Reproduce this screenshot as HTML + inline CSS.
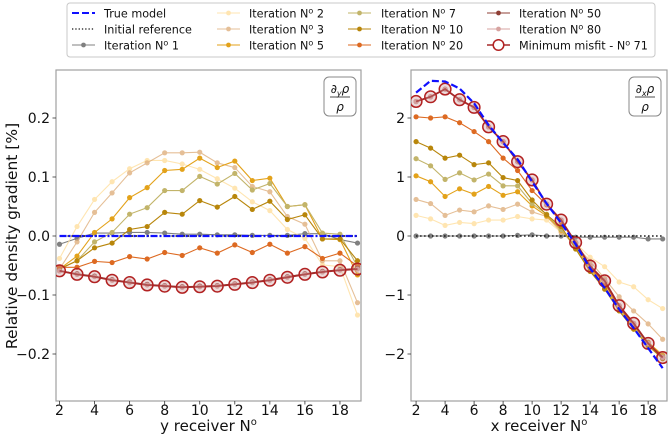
<!DOCTYPE html>
<html><head><meta charset="utf-8">
<style>
html,body{margin:0;padding:0;background:#fff;}
svg{display:block;font-family:"DejaVu Sans","Liberation Sans",sans-serif;}
</style></head>
<body>
<svg id="chart" width="669" height="436" viewBox="0 0 669 436" xmlns="http://www.w3.org/2000/svg">
  <g id="legend"></g>
  <g id="left"></g>
  <g id="right"></g>
</svg>
<script>
// ---- data ----
const receivers = [2,3,4,5,6,7,8,9,10,11,12,13,14,15,16,17,18,19];
const xTicks = [2,4,6,8,10,12,14,16,18];
const leftYTicks = [0.2,0.1,0.0,-0.1,-0.2];
const leftYTickLabels = ["0.2","0.1","0.0","\u22120.1","\u22120.2"];
const rightYTicks = [2,1,0,-1,-2];
const rightYTickLabels = ["2","1","0","\u22121","\u22122"];

// left panel (d_y rho / rho)
const dyTrue = [0,0,0,0,0,0,0,0,0,0,0,0,0,0,0,0,0,0];
const dyInit = [0,0,0,0,0,0,0,0,0,0,0,0,0,0,0,0,0,0];
const dyIt1 = [-0.014,-0.004,0.005,0.005,0.006,0.006,0.005,0.003,0.003,0.002,0.002,0.001,0.001,0.001,0.004,0.004,-0.006,-0.012];
const dyIt2 = [-0.038,0.016,0.062,0.092,0.114,0.128,0.128,0.122,0.113,0.097,0.081,0.058,0.043,0.011,-0.004,-0.049,-0.052,-0.134];
const dyIt3 = [-0.056,-0.010,0.040,0.073,0.107,0.124,0.141,0.141,0.142,0.124,0.116,0.084,0.075,0.033,0.020,-0.042,-0.042,-0.113];
const dyIt5 = [-0.056,-0.034,0.006,0.029,0.065,0.082,0.111,0.113,0.132,0.116,0.127,0.094,0.098,0.050,0.053,-0.005,-0.006,-0.066];
const dyIt7 = [-0.056,-0.042,-0.010,0.006,0.037,0.048,0.077,0.077,0.101,0.088,0.106,0.078,0.089,0.050,0.053,0.005,0.003,-0.052];
const dyIt10 = [-0.056,-0.042,-0.020,-0.012,0.011,0.016,0.040,0.037,0.060,0.049,0.067,0.045,0.059,0.028,0.036,-0.005,-0.005,-0.042];
const dyIt20 = [-0.053,-0.053,-0.043,-0.045,-0.035,-0.039,-0.028,-0.033,-0.020,-0.029,-0.015,-0.028,-0.014,-0.029,-0.018,-0.038,-0.029,-0.051];
const dyIt50 = [-0.059,-0.064,-0.068,-0.074,-0.078,-0.082,-0.084,-0.086,-0.085,-0.084,-0.081,-0.078,-0.074,-0.069,-0.064,-0.060,-0.057,-0.055];
const dyIt80 = [-0.059,-0.065,-0.069,-0.075,-0.079,-0.083,-0.085,-0.087,-0.086,-0.085,-0.082,-0.079,-0.075,-0.070,-0.065,-0.061,-0.058,-0.056];
const dyMin = [-0.059,-0.065,-0.069,-0.075,-0.079,-0.083,-0.085,-0.087,-0.086,-0.085,-0.082,-0.079,-0.075,-0.070,-0.065,-0.061,-0.058,-0.056];

// right panel (d_x rho / rho)
const dxTrue = [2.43,2.63,2.62,2.50,2.25,1.88,1.58,1.30,0.92,0.55,0.22,-0.14,-0.55,-0.88,-1.24,-1.56,-1.90,-2.24];
const dxInit = [0,0,0,0,0,0,0,0,0,0,0,0,0,0,0,0,0,0];
const dxIt1 = [0,0,0,0,0,0,0,0.01,0.02,0,0,-0.02,-0.02,-0.02,-0.02,-0.02,-0.05,-0.05];
const dxIt2 = [0.35,0.29,0.18,0.23,0.21,0.27,0.27,0.33,0.29,0.27,0.06,-0.12,-0.36,-0.52,-0.78,-0.86,-1.08,-1.23];
const dxIt3 = [0.62,0.55,0.35,0.44,0.41,0.51,0.45,0.54,0.41,0.33,0.07,-0.15,-0.43,-0.72,-1.03,-1.27,-1.49,-1.75];
const dxIt5 = [1.02,0.92,0.67,0.80,0.71,0.84,0.69,0.75,0.51,0.34,0.10,-0.18,-0.55,-0.85,-1.22,-1.52,-1.80,-2.02];
const dxIt7 = [1.31,1.19,0.96,1.07,0.95,1.05,0.85,0.85,0.55,0.37,0.11,-0.20,-0.58,-0.88,-1.25,-1.55,-1.83,-2.05];
const dxIt10 = [1.60,1.49,1.32,1.37,1.21,1.24,0.99,0.94,0.61,0.36,0.16,-0.22,-0.60,-0.90,-1.27,-1.58,-1.86,-2.08];
const dxIt20 = [2.02,2.00,2.02,1.92,1.77,1.60,1.32,1.11,0.77,0.53,0.24,-0.12,-0.53,-0.80,-1.20,-1.50,-1.82,-2.06];
const dxIt50 = [2.28,2.36,2.49,2.31,2.18,1.85,1.60,1.26,0.95,0.54,0.27,-0.11,-0.51,-0.76,-1.18,-1.48,-1.82,-2.06];
const dxIt80 = [2.28,2.36,2.49,2.31,2.18,1.85,1.60,1.26,0.95,0.54,0.27,-0.11,-0.51,-0.76,-1.18,-1.48,-1.82,-2.06];
const dxMin = [2.28,2.36,2.49,2.31,2.18,1.85,1.60,1.26,0.95,0.54,0.27,-0.11,-0.51,-0.76,-1.18,-1.48,-1.82,-2.06];

const NS = "http://www.w3.org/2000/svg";
function mk(tag, attrs, parent){
  const e = document.createElementNS(NS, tag);
  for (const k in attrs) e.setAttribute(k, attrs[k]);
  parent.appendChild(e);
  return e;
}

const iterStyles = [
  {key:"it1",  color:"#808080", op:1},
  {key:"it2",  color:"#ffdf9e", op:0.8},
  {key:"it3",  color:"#dfb07e", op:0.8},
  {key:"it5",  color:"#e3a21a", op:1},
  {key:"it7",  color:"#c2b46a", op:1},
  {key:"it10", color:"#b8860b", op:1},
  {key:"it20", color:"#dd6a22", op:1},
  {key:"it50", color:"#8f3f35", op:1},
  {key:"it80", color:"#d7a3a0", op:1}
];

function drawPanel(g, cfg){
  const {x0,x1,y0,y1,xmin,xmax,yPerUnit,yZero} = cfg;
  const sx = v => x0 + (v - xmin) / (xmax - xmin) * (x1 - x0);
  const sy = v => yZero - v * yPerUnit;
  const frame = mk("rect",{x:x0,y:y0,width:x1-x0,height:y1-y0,fill:"#fff",stroke:"#a0a0a0","stroke-width":1.2},g);
  
  
  xTicks.forEach(t=>{
    const X = sx(t);
    const tk = mk("line",{x1:X,x2:X,y1:y1,y2:y1+3.5,stroke:"#333","stroke-width":0.8},g);
    
    
    const tl = mk("text",{x:X,y:y1+14,"font-size":14,"text-anchor":"middle",fill:"#111"},g);
    tl.textContent = String(t);
    
    
  });
  cfg.yTicks.forEach((t,i)=>{
    const Y = sy(t);
    const tk = mk("line",{x1:x0-3.5,x2:x0,y1:Y,y2:Y,stroke:"#333","stroke-width":0.8},g);
    
    
    const tl = mk("text",{x:x0-6,y:Y+5,"font-size":14,"text-anchor":"end",fill:"#111"},g);
    tl.textContent = cfg.yTickLabels[i];
    
    
  });
  const xt = mk("text",{x:(x0+x1)/2,y:431,"font-size":15,"text-anchor":"middle",fill:"#111"},g);
  xt.textContent = cfg.xTitle;
  
  
  const sup = mk("tspan",{"font-size":10,dy:-6},xt);
  sup.textContent = "o";

  const clipId = "clip"+cfg.id;
  const cp = mk("clipPath",{id:clipId},g);
  mk("rect",{x:x0,y:y0,width:x1-x0,height:y1-y0},cp);
  const plot = mk("g",{"clip-path":"url(#"+clipId+")"},g);

  const pts = arr => arr.map((v,i)=>sx(receivers[i]).toFixed(2)+","+sy(v).toFixed(2)).join(" ");

  cfg.iters.forEach((arr,k)=>{
    const st = iterStyles[k];
    const sg = mk("g",{opacity:st.op},plot);
    
    
    mk("polyline",{points:pts(arr),fill:"none",stroke:st.color,"stroke-width":1.1},sg);
    arr.forEach((v,i)=>{
      const c = mk("circle",{cx:sx(receivers[i]),cy:sy(v),r:2.6,fill:st.color},sg);
      
      
    });
  });
  const mg = mk("g",{},plot);
  
  
  mk("polyline",{points:pts(cfg.min),fill:"none",stroke:"#a52a2a","stroke-width":1.8},mg);
  cfg.min.forEach((v,i)=>{
    const c = mk("circle",{cx:sx(receivers[i]),cy:sy(v),r:5.8,fill:"rgba(200,150,150,0.35)",stroke:"#b22222","stroke-width":1.5},mg);
    
    
  });
  const ir = mk("polyline",{points:pts(cfg.init),fill:"none",stroke:"#111","stroke-width":1.6,"stroke-dasharray":"1.5,2.5"},plot);
  
  
  const tm = mk("polyline",{points:pts(cfg.truth),fill:"none",stroke:"#1010ff","stroke-width":2.2,"stroke-dasharray":cfg.trueDash},plot);
  
  

  const ab = mk("g",{},g);
  
  
  mk("rect",{x:cfg.ax,y:77,width:32,height:39,rx:5,fill:"#fff",stroke:"#888","stroke-width":1},ab);
  const num = mk("text",{x:cfg.ax+16,y:93,"font-size":12,"text-anchor":"middle",fill:"#111","font-style":"italic"},ab);
  num.textContent = "\u2202";
  const sub = mk("tspan",{"font-size":8,dy:3},num); sub.textContent = cfg.sub;
  const rr = mk("tspan",{dy:-3},num); rr.textContent = "\u03C1";
  mk("line",{x1:cfg.ax+6,x2:cfg.ax+26,y1:97,y2:97,stroke:"#111","stroke-width":0.8},ab);
  const den = mk("text",{x:cfg.ax+16,y:111,"font-size":12,"text-anchor":"middle",fill:"#111","font-style":"italic"},ab);
  den.textContent = "\u03C1";
}

drawPanel(document.getElementById("left"),{
  id:"L", x0:56, x1:361, y0:70, y1:401, xmin:1.8, xmax:19.2, yPerUnit:590, yZero:236,
  yTicks:leftYTicks, yTickLabels:leftYTickLabels, xTitle:"y receiver N",
  iters:[dyIt1,dyIt2,dyIt3,dyIt5,dyIt7,dyIt10,dyIt20,dyIt50,dyIt80],
  min:dyMin, init:dyInit, truth:dyTrue, trueDash:"7,2,2,2", ax:324, sub:"y"
});
drawPanel(document.getElementById("right"),{
  id:"R", x0:411, x1:667, y0:70, y1:401, xmin:1.65, xmax:19.3, yPerUnit:59, yZero:236,
  yTicks:rightYTicks, yTickLabels:rightYTickLabels, xTitle:"x receiver N",
  iters:[dxIt1,dxIt2,dxIt3,dxIt5,dxIt7,dxIt10,dxIt20,dxIt50,dxIt80],
  min:dxMin, init:dxInit, truth:dxTrue, trueDash:"7,3", ax:629, sub:"x"
});

const yt = mk("text",{x:0,y:0,"font-size":15.5,"text-anchor":"middle",fill:"#111",transform:"translate(17,236) rotate(-90)"},document.getElementById("chart"));
yt.textContent = "Relative density gradient [%]";



const lg = document.getElementById("legend");
mk("rect",{x:67,y:3,width:588,height:54,rx:3,fill:"#fff",stroke:"#c8c8c8","stroke-width":1},lg);
const legendItems = [
  {label:"True model", col:0,row:0, type:"true"},
  {label:"Initial reference", col:0,row:1, type:"init"},
  {label:"Iteration N", num:"1", col:0,row:2, type:"it", s:0},
  {label:"Iteration N", num:"2", col:1,row:0, type:"it", s:1},
  {label:"Iteration N", num:"3", col:1,row:1, type:"it", s:2},
  {label:"Iteration N", num:"5", col:1,row:2, type:"it", s:3},
  {label:"Iteration N", num:"7", col:2,row:0, type:"it", s:4},
  {label:"Iteration N", num:"10", col:2,row:1, type:"it", s:5},
  {label:"Iteration N", num:"20", col:2,row:2, type:"it", s:6},
  {label:"Iteration N", num:"50", col:3,row:0, type:"it", s:7},
  {label:"Iteration N", num:"80", col:3,row:1, type:"it", s:8},
  {label:"Minimum misfit - N", num:"71", col:3,row:2, type:"min"}
];
const colLine = [72,217,348,487];
const colText = [104,249,381,519];
const rowY = [13,29,45];
legendItems.forEach(it=>{
  const eg = mk("g",{},lg);
  
  
  const lx = colLine[it.col], y = rowY[it.row];
  if (it.type==="true") mk("line",{x1:lx,x2:lx+23,y1:y,y2:y,stroke:"#1010ff","stroke-width":2,"stroke-dasharray":"7,3"},eg);
  else if (it.type==="init") mk("line",{x1:lx,x2:lx+23,y1:y,y2:y,stroke:"#111","stroke-width":1.3,"stroke-dasharray":"1.3,2"},eg);
  else if (it.type==="it"){
    const st = iterStyles[it.s];
    const sg = mk("g",{opacity:st.op},eg);
    mk("line",{x1:lx,x2:lx+23,y1:y,y2:y,stroke:st.color,"stroke-width":1.1},sg);
    mk("circle",{cx:lx+11.5,cy:y,r:2.4,fill:st.color},sg);
  } else {
    mk("line",{x1:lx,x2:lx+23,y1:y,y2:y,stroke:"#a52a2a","stroke-width":1.5},eg);
    mk("circle",{cx:lx+11.5,cy:y,r:5.3,fill:"#fff",stroke:"#b22222","stroke-width":1.5},eg);
  }
  const t = mk("text",{x:colText[it.col],y:y+4.5,"font-size":11.2,fill:"#111"},eg);
  t.textContent = it.label;
  if (it.num){
    const s = mk("tspan",{"font-size":8,dy:-4},t); s.textContent = "o";
    const n = mk("tspan",{dy:4},t); n.textContent = " "+it.num;
  }
});
</script>
</body></html>
